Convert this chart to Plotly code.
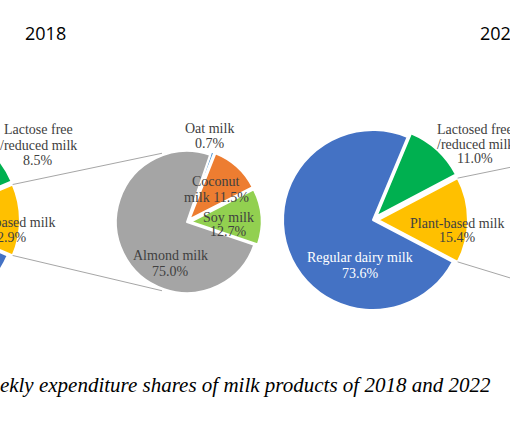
import math
import plotly.graph_objects as go

# ---------------- data ----------------
years = ["2018", "2022"]
main_labels_2018 = ["Lactose free\n/reduced milk", "Plant-based milk", "Regular dairy milk"]
main_labels_2022 = ["Lactosed free\n/reduced milk", "Plant-based milk", "Regular dairy milk"]
shares_2018 = [8.5, 12.9, 78.6]
shares_2022 = [11.0, 15.4, 73.6]
plant_labels_2018 = ["Oat milk", "Coconut\nmilk", "Soy milk", "Almond milk"]
plant_shares_2018 = [0.7, 11.5, 12.7, 75.0]
caption = "Weekly expenditure shares of milk products of 2018 and 2022"

# ---------------- style / layout ----------------
main_colors = ["#00B050", "#FFC000", "#4472C4"]
plant_colors = ["#5B9BD5", "#ED7D31", "#92D050", "#A5A5A5"]
LABEL_FONT = "Liberation Serif"
LABEL_COLOR = "#404040"

VIEW_W, H = 510, 426
SHIFT = 180          # figure extends this far left of the visible window
W = VIEW_W + SHIFT


def px(x):
    return (x + SHIFT) / W


def py(y):
    return 1 - y / H


def domain(cx, cy, r, pull):
    h = r * (1 + pull)
    return dict(x=[px(cx - h), px(cx + h)], y=[py(cy + h), py(cy - h)])


def centred_rotation(values, idx):
    """rotation so that slice idx is centred at 3 o'clock"""
    return 90 - sum(values[:idx]) * 3.6 - values[idx] * 1.8


MAIN_R = 90
MAIN_PULL = 0.055
SEC_R = 71
SEC_PULL = 0.05
C2018 = (-75, 220)
C2018_SEC = (187, 222)
C2022 = (373, 220)
C2022_SEC = (625, 227)   # secondary pie of 2022 lies beyond the right edge
SEC_R_2022 = 80

fig = go.Figure()

rot18 = centred_rotation(shares_2018, 1)
rot22 = centred_rotation(shares_2022, 1)

fig.add_trace(go.Pie(
    labels=[l.replace("\n", " ") for l in main_labels_2018], values=shares_2018,
    sort=False, direction="clockwise", rotation=rot18,
    marker=dict(colors=main_colors, line=dict(color="white", width=2)),
    pull=[MAIN_PULL, MAIN_PULL, 0], textinfo="none", hoverinfo="label+percent",
    domain=domain(*C2018, MAIN_R, MAIN_PULL), showlegend=False))

fig.add_trace(go.Pie(
    labels=[l.replace("\n", " ") for l in plant_labels_2018], values=plant_shares_2018,
    sort=False, direction="clockwise", rotation=19,
    marker=dict(colors=plant_colors, line=dict(color="white", width=2)),
    pull=[SEC_PULL, SEC_PULL, SEC_PULL, 0], textinfo="none", hoverinfo="label+percent",
    domain=domain(*C2018_SEC, SEC_R, SEC_PULL), showlegend=False))

fig.add_trace(go.Pie(
    labels=[l.replace("\n", " ") for l in main_labels_2022], values=shares_2022,
    sort=False, direction="clockwise", rotation=rot22,
    marker=dict(colors=main_colors, line=dict(color="white", width=2)),
    pull=[MAIN_PULL, MAIN_PULL, 0], textinfo="none", hoverinfo="label+percent",
    domain=domain(*C2022, MAIN_R, MAIN_PULL), showlegend=False))

annotations = []


def add_label(lines, x, y0, color=LABEL_COLOR, spacing=15):
    for i, t in enumerate(lines):
        annotations.append(dict(
            text=t, x=px(x), y=py(y0 + i * spacing), xref="paper", yref="paper",
            xanchor="center", yanchor="middle", showarrow=False,
            font=dict(family=LABEL_FONT, size=14, color=color)))


def pct(v):
    return f"{v:.1f}%"


# 2018 main pie labels
add_label(main_labels_2018[0].split("\n") + [pct(shares_2018[0])], 38, 130)
add_label([main_labels_2018[1], pct(shares_2018[1])], 9, 222)
add_label([main_labels_2018[2], pct(shares_2018[2])], C2018[0] - 13, 257, color="white", spacing=16)
# 2018 plant-based breakdown labels
add_label([plant_labels_2018[0], pct(plant_shares_2018[0])], 210, 128)
cl = plant_labels_2018[1].split("\n")
add_label([cl[0], cl[1] + " " + pct(plant_shares_2018[1])], 216, 182)
add_label([plant_labels_2018[2], pct(plant_shares_2018[2])], 228, 217, spacing=14)
add_label([plant_labels_2018[3], pct(plant_shares_2018[3])], 170, 255, spacing=16)
# 2022 main pie labels
add_label([main_labels_2022[2], pct(shares_2022[2])], 360, 257, color="white", spacing=16)
add_label([main_labels_2022[1], pct(shares_2022[1])], 457, 223, spacing=14)
add_label(main_labels_2022[0].split("\n") + [pct(shares_2022[0])], 475, 129)

# year headings
for yr, x in zip(years, [23, 478]):
    annotations.append(dict(
        text=yr, x=px(x), y=py(32.5), xref="paper", yref="paper",
        xanchor="left", yanchor="middle", showarrow=False,
        font=dict(family="Open Sans", size=18, color="black")))

# caption
annotations.append(dict(
    text=f"<i>{caption}</i>", x=px(493), y=py(385), xref="paper", yref="paper",
    xanchor="right", yanchor="middle", showarrow=False,
    font=dict(family=LABEL_FONT, size=21, color="black")))


# connector lines (from the plant-based slice edge to the secondary pie)
def connectors(values, idx, rot, c_main, c_sec, r_sec):
    a1 = math.radians(rot + sum(values[:idx]) * 3.6)
    a2 = math.radians(rot + sum(values[:idx + 1]) * 3.6)
    mid = (a1 + a2) / 2
    off = MAIN_PULL * MAIN_R
    ox = c_main[0] + off * math.sin(mid)
    oy = c_main[1] - off * math.cos(mid)
    shapes = []
    for a, b in [(a1, math.radians(-20)), (a2, math.radians(200))]:
        x0 = ox + MAIN_R * math.sin(a)
        y0 = oy - MAIN_R * math.cos(a)
        x1 = c_sec[0] + r_sec * 1.03 * math.sin(b)
        y1 = c_sec[1] - r_sec * 1.03 * math.cos(b)
        shapes.append(dict(type="line", xref="paper", yref="paper",
                           x0=px(x0), y0=py(y0), x1=px(x1), y1=py(y1),
                           line=dict(color="#A6A6A6", width=1)))
    return shapes


shapes = connectors(shares_2018, 1, rot18, C2018, C2018_SEC, SEC_R) + \
    connectors(shares_2022, 1, rot22, C2022, C2022_SEC, SEC_R_2022)

fig.update_layout(
    width=W, height=H, margin=dict(l=0, r=0, t=0, b=0),
    paper_bgcolor="white", plot_bgcolor="white",
    annotations=annotations, shapes=shapes, showlegend=False)

post = ("document.body.style.margin='0';document.body.style.overflow='hidden';"
        "var d=document.getElementById('{plot_id}');d.style.marginLeft='-%dpx';" % SHIFT)
fig.write_html("out.html", post_script=post, config={"displayModeBar": False})
